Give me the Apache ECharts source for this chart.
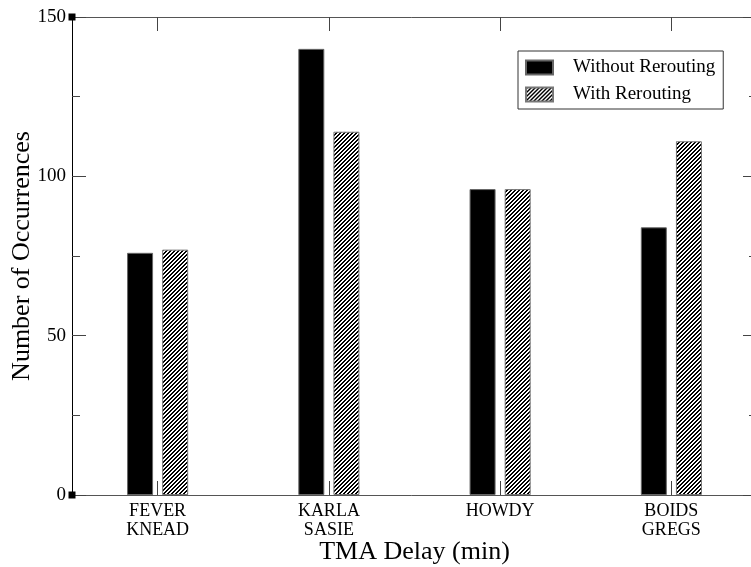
<!DOCTYPE html>
<html>
<head>
<meta charset="utf-8">
<script src="https://cdn.jsdelivr.net/npm/echarts@6/dist/echarts.min.js"></script>
<style>
  html, body { margin: 0; padding: 0; background: #fff; }
  #chart { width: 751px; height: 567px; }
</style>
</head>
<body>
<div id="chart"></div>
<script>
const categories = ['FEVER\nKNEAD', 'KARLA\nSASIE', 'HOWDY', 'BOIDS\nGREGS'];
const withoutRerouting = [76, 140, 96, 84];
const withRerouting = [77, 114, 96, 111];
const yMin = 0;
const yMax = 150;
const yStep = 50;

const FONT = 'Liberation Serif';

// small 4x4 tile with "/" stripes for the hatched bars
function hatchTile() {
    const c = document.createElement('canvas');
    c.width = 4;
    c.height = 4;
    const ctx = c.getContext('2d');
    const img = ctx.createImageData(4, 4);
    for (let y = 0; y < 4; y++) {
        for (let x = 0; x < 4; x++) {
            const v = (x + y) % 4 < 2 ? 0 : 255;
            const i = (y * 4 + x) * 4;
            img.data[i] = v;
            img.data[i + 1] = v;
            img.data[i + 2] = v;
            img.data[i + 3] = 255;
        }
    }
    ctx.putImageData(img, 0, 0);
    return c;
}

const chart = echarts.init(document.getElementById('chart'));

const tickStyle = { color: '#444', width: 1 };

const option = {
    backgroundColor: '#fff',
    animation: false,
    grid: { left: 72, top: 17, width: 685, height: 478, outerBoundsMode: 'none', containLabel: false },
    legend: {
        orient: 'vertical',
        left: 518,
        top: 51,
        padding: [7, 8, 5, 7],
        itemGap: 8,
        itemWidth: 27,
        itemHeight: 14,
        icon: 'rect',
        borderColor: '#333',
        borderWidth: 1,
        textStyle: { fontFamily: FONT, fontSize: 19, color: '#000', padding: [0, 0, 0, 15] },
        data: ['Without Rerouting', 'With Rerouting']
    },
    xAxis: [{
        type: 'category',
        data: categories,
        name: 'TMA Delay (min)',
        nameLocation: 'middle',
        nameGap: 44,
        nameMoveOverlap: false,
        nameTextStyle: { fontFamily: FONT, fontSize: 26, color: '#000' },
        axisLine: { show: true, onZero: false, lineStyle: { color: '#555' } },
        axisTick: { show: true, inside: true, alignWithLabel: true, interval: 0, length: 14, lineStyle: tickStyle },
        axisLabel: { fontFamily: FONT, fontSize: 18, color: '#000', lineHeight: 19, margin: 7, interval: 0 },
        splitLine: { show: false }
    }, {
        // top frame: a plain 0..n axis whose ticks sit at the category centres
        type: 'value',
        position: 'top',
        min: 0,
        max: categories.length,
        axisLine: { show: true, onZero: false, lineStyle: { color: '#555' } },
        axisTick: {
            show: true,
            inside: true,
            length: 14,
            lineStyle: tickStyle,
            customValues: categories.map((c, i) => i + 0.5)
        },
        axisLabel: { show: false },
        splitLine: { show: false }
    }],
    yAxis: [{
        type: 'value',
        min: yMin,
        max: yMax,
        interval: yStep,
        name: 'Number of Occurrences',
        nameLocation: 'middle',
        nameGap: 37,
        nameMoveOverlap: false,
        nameTextStyle: { fontFamily: FONT, fontSize: 26, color: '#000' },
        axisLine: {
            show: true,
            onZero: false,
            lineStyle: { color: '#000' },
            symbol: ['rect', 'rect'],
            symbolSize: [7, 7]
        },
        axisTick: { show: true, inside: true, length: 14, lineStyle: tickStyle },
        minorTick: { show: true, splitNumber: 2, length: 8, lineStyle: tickStyle },
        axisLabel: { fontFamily: FONT, fontSize: 19, color: '#000', margin: 6 },
        splitLine: { show: false }
    }, {
        type: 'value',
        position: 'right',
        min: yMin,
        max: yMax,
        interval: yStep,
        axisLine: { show: true, onZero: false, lineStyle: { color: '#000' } },
        axisTick: { show: true, inside: true, length: 14, lineStyle: tickStyle },
        minorTick: { show: true, splitNumber: 2, length: 8, lineStyle: tickStyle },
        axisLabel: { show: false },
        splitLine: { show: false }
    }],
    series: [{
        name: 'Without Rerouting',
        type: 'bar',
        data: withoutRerouting,
        barWidth: 26,
        barGap: '35%',
        itemStyle: { color: '#000', borderColor: '#666', borderWidth: 1 }
    }, {
        name: 'With Rerouting',
        type: 'bar',
        data: withRerouting,
        barWidth: 26,
        itemStyle: {
            color: { image: hatchTile(), repeat: 'repeat' },
            borderColor: '#777',
            borderWidth: 1
        }
    }]
};

chart.setOption(option);
</script>
</body>
</html>
